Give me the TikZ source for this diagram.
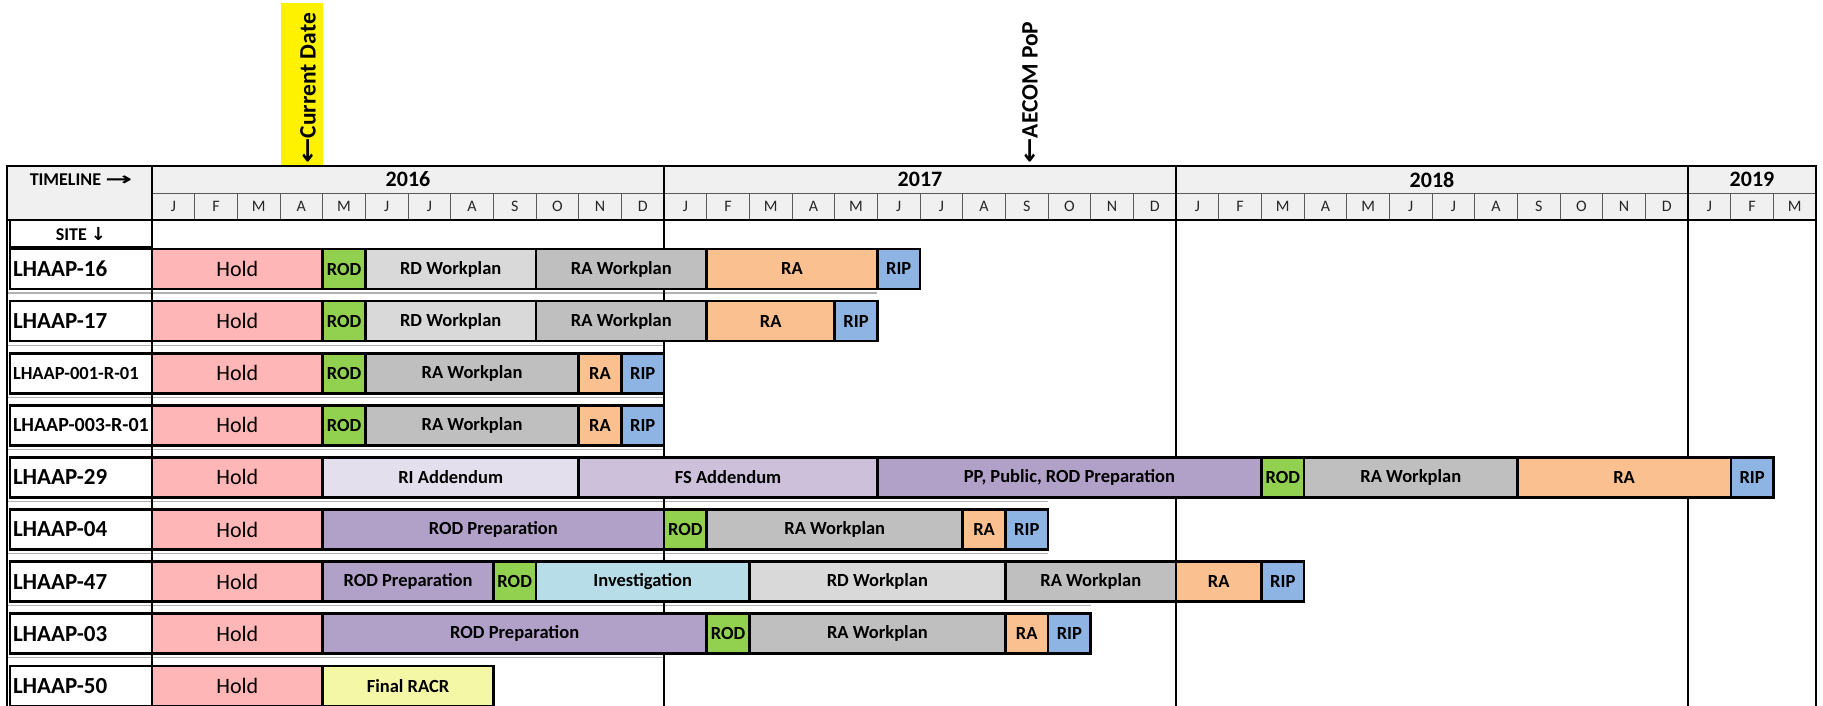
\documentclass[tikz,border=0pt]{standalone}
\usepackage{fontspec}
\setmainfont{Carlito}
\newfontfamily\arrowfont{DejaVu Sans}
\usepackage{xcolor}
\usepackage{graphicx}
\usetikzlibrary{positioning}

\definecolor{holdc}{HTML}{FFB6B6}
\definecolor{rodc}{HTML}{92D050}
\definecolor{rdwc}{HTML}{D9D9D9}
\definecolor{rawc}{HTML}{BFBFBF}
\definecolor{rac}{HTML}{FAC090}
\definecolor{ripc}{HTML}{8DB4E2}
\definecolor{riac}{HTML}{E4DFEC}
\definecolor{fsac}{HTML}{CCC0DA}
\definecolor{prepc}{HTML}{B1A0C7}
\definecolor{invc}{HTML}{B7DEE8}
\definecolor{racrc}{HTML}{F4F7A6}
\definecolor{hdrc}{HTML}{F0F0F0}

% one bar: name, row centre, first month, end month, style, text
\newcommand{\taskbar}[6]{\node[task,#5,minimum width={(#4-#3)*42.67pt}] (#1) at ({152+(#3+#4)*21.335},#2) {#6};}

\begin{document}
\begin{tikzpicture}[x=1pt,y=-1pt]
    \tikzstyle{task}=[draw, line width=2.6pt, minimum height=40pt, inner sep=0pt, font=\fontsize{18.5}{20}\selectfont\bfseries]
    \tikzstyle{holdbar}=[fill=holdc, font=\fontsize{22}{24}\selectfont]
    \tikzstyle{rodbar}=[fill=rodc]
    \tikzstyle{rdwbar}=[fill=rdwc]
    \tikzstyle{rawbar}=[fill=rawc]
    \tikzstyle{rabar}=[fill=rac]
    \tikzstyle{ripbar}=[fill=ripc]
    \tikzstyle{riabar}=[fill=riac]
    \tikzstyle{fsabar}=[fill=fsac]
    \tikzstyle{prepbar}=[fill=prepc]
    \tikzstyle{invbar}=[fill=invc]
    \tikzstyle{racrbar}=[fill=racrc]
    \tikzstyle{site}=[draw, line width=2.6pt, fill=white, minimum width=142pt, minimum height=40pt, text width=136pt, inner sep=0pt, align=left, font=\fontsize{23}{25}\selectfont\bfseries]
    \tikzstyle{year}=[draw=gray!70!black, line width=1pt, fill=hdrc, minimum height=27pt, inner sep=0pt, font=\fontsize{22}{24}\selectfont\bfseries]
    \tikzstyle{month}=[draw=gray!70!black, line width=1pt, fill=hdrc, minimum width=42.67pt, minimum height=27pt, inner sep=0pt, text=black!85, font=\fontsize{16}{17}\selectfont]
    \tikzstyle{frame}=[line width=2.6pt]
    \tikzstyle{gapline}=[line width=1.2pt, gray!60]
    \tikzstyle{marker}=[rotate=90, anchor=west, inner sep=0pt, font=\fontsize{23.5}{25}\selectfont\bfseries]
    \useasboundingbox (0,0) rectangle (1823,706);
    \clip (0,0) rectangle (1823,706);

    % markers above the table
    \fill[yellow] (281,3) rectangle (323,166);
    \node[marker] (curdate) at (308,164) {{\arrowfont\scalebox{1.3}[1]{←}}Current Date};
    \node[marker] (pop) at (1030,164) {{\arrowfont\scalebox{1.3}[1]{←}}AECOM PoP};

    % header
    \node[year, draw=none, minimum width=145pt, minimum height=54pt] (tlcell) at (79.5,193) {};
    \node[font=\fontsize{18}{20}\selectfont\bfseries] (timeline) at (81,180) {TIMELINE {\arrowfont\scalebox{1.8}[1]{→}}};
    \node[year, minimum width=512pt] (y2016) at (408,179.5) {2016};
    \node[year, minimum width=512pt] (y2017) at (920,179.5) {2017};
    \node[year, minimum width=512pt] (y2018) at (1432,179.5) {2018};
    \node[year, minimum width=128pt] (y2019) at (1752,179.5) {2019};
    \foreach \m [count=\i from 0] in {J,F,M,A,M,J,J,A,S,O,N,D,J,F,M,A,M,J,J,A,S,O,N,D,J,F,M,A,M,J,J,A,S,O,N,D,J,F,M}
        \node[month] (m\i) at ({152+(\i+0.5)*42.67},206.5) {\m};
    \node[draw, line width=2.6pt, minimum width=142pt, minimum height=27pt, inner sep=0pt, font=\fontsize{18}{20}\selectfont\bfseries] (sitehd) at (81,233.5) {SITE {\arrowfont ↓}};

    % strips between the rows
    \foreach \y/\e in {293/877, 345.1/664, 397.2/664, 449.3/664, 501.4/1048, 553.5/1048, 605.6/1091, 657.7/664}
        \draw[gapline] (7,\y) -- (\e,\y);

    % frame and year lines
    \draw[frame] (7,166) rectangle (1816,720);
    \draw[frame] (7,220) -- (1816,220);
    \foreach \x in {152,664,1176,1688}
        \draw[frame] (\x,166) -- (\x,720);

    % sites
    \node[site] (l16) at (81,269) {LHAAP-16};
    \node[site] (l17) at (81,321.1) {LHAAP-17};
    \node[site, font=\fontsize{18.5}{20}\selectfont\bfseries] (l001) at (81,373.2) {LHAAP-001-R-01};
    \node[site, font=\fontsize{20}{22}\selectfont\bfseries] (l003) at (81,425.3) {LHAAP-003-R-01};
    \node[site] (l29) at (81,477.4) {LHAAP-29};
    \node[site] (l04) at (81,529.5) {LHAAP-04};
    \node[site] (l47) at (81,581.6) {LHAAP-47};
    \node[site] (l03) at (81,633.7) {LHAAP-03};
    \node[site] (l50) at (81,685.8) {LHAAP-50};

    % LHAAP-16
    \taskbar{h16}{269}{0}{4}{holdbar}{Hold}
    \taskbar{rod16}{269}{4}{5}{rodbar}{ROD}
    \taskbar{rdw16}{269}{5}{9}{rdwbar}{RD Workplan}
    \taskbar{raw16}{269}{9}{13}{rawbar}{RA Workplan}
    \taskbar{ra16}{269}{13}{17}{rabar}{RA}
    \taskbar{rip16}{269}{17}{18}{ripbar}{RIP}
    % LHAAP-17
    \taskbar{h17}{321.1}{0}{4}{holdbar}{Hold}
    \taskbar{rod17}{321.1}{4}{5}{rodbar}{ROD}
    \taskbar{rdw17}{321.1}{5}{9}{rdwbar}{RD Workplan}
    \taskbar{raw17}{321.1}{9}{13}{rawbar}{RA Workplan}
    \taskbar{ra17}{321.1}{13}{16}{rabar}{RA}
    \taskbar{rip17}{321.1}{16}{17}{ripbar}{RIP}
    % LHAAP-001-R-01
    \taskbar{h001}{373.2}{0}{4}{holdbar}{Hold}
    \taskbar{rod001}{373.2}{4}{5}{rodbar}{ROD}
    \taskbar{raw001}{373.2}{5}{10}{rawbar}{RA Workplan}
    \taskbar{ra001}{373.2}{10}{11}{rabar}{RA}
    \taskbar{rip001}{373.2}{11}{12}{ripbar}{RIP}
    % LHAAP-003-R-01
    \taskbar{h003}{425.3}{0}{4}{holdbar}{Hold}
    \taskbar{rod003}{425.3}{4}{5}{rodbar}{ROD}
    \taskbar{raw003}{425.3}{5}{10}{rawbar}{RA Workplan}
    \taskbar{ra003}{425.3}{10}{11}{rabar}{RA}
    \taskbar{rip003}{425.3}{11}{12}{ripbar}{RIP}
    % LHAAP-29
    \taskbar{h29}{477.4}{0}{4}{holdbar}{Hold}
    \taskbar{ria29}{477.4}{4}{10}{riabar}{RI Addendum}
    \taskbar{fsa29}{477.4}{10}{17}{fsabar}{FS Addendum}
    \taskbar{prep29}{477.4}{17}{26}{prepbar}{PP, Public, ROD Preparation}
    \taskbar{rod29}{477.4}{26}{27}{rodbar}{ROD}
    \taskbar{raw29}{477.4}{27}{32}{rawbar}{RA Workplan}
    \taskbar{ra29}{477.4}{32}{37}{rabar}{RA}
    \taskbar{rip29}{477.4}{37}{38}{ripbar}{RIP}
    % LHAAP-04
    \taskbar{h04}{529.5}{0}{4}{holdbar}{Hold}
    \taskbar{prep04}{529.5}{4}{12}{prepbar}{ROD Preparation}
    \taskbar{rod04}{529.5}{12}{13}{rodbar}{ROD}
    \taskbar{raw04}{529.5}{13}{19}{rawbar}{RA Workplan}
    \taskbar{ra04}{529.5}{19}{20}{rabar}{RA}
    \taskbar{rip04}{529.5}{20}{21}{ripbar}{RIP}
    % LHAAP-47
    \taskbar{h47}{581.6}{0}{4}{holdbar}{Hold}
    \taskbar{prep47}{581.6}{4}{8}{prepbar}{ROD Preparation}
    \taskbar{rod47}{581.6}{8}{9}{rodbar}{ROD}
    \taskbar{inv47}{581.6}{9}{14}{invbar}{Investigation}
    \taskbar{rdw47}{581.6}{14}{20}{rdwbar}{RD Workplan}
    \taskbar{raw47}{581.6}{20}{24}{rawbar}{RA Workplan}
    \taskbar{ra47}{581.6}{24}{26}{rabar}{RA}
    \taskbar{rip47}{581.6}{26}{27}{ripbar}{RIP}
    % LHAAP-03
    \taskbar{h03}{633.7}{0}{4}{holdbar}{Hold}
    \taskbar{prep03}{633.7}{4}{13}{prepbar}{ROD Preparation}
    \taskbar{rod03}{633.7}{13}{14}{rodbar}{ROD}
    \taskbar{raw03}{633.7}{14}{20}{rawbar}{RA Workplan}
    \taskbar{ra03}{633.7}{20}{21}{rabar}{RA}
    \taskbar{rip03}{633.7}{21}{22}{ripbar}{RIP}
    % LHAAP-50
    \taskbar{h50}{685.8}{0}{4}{holdbar}{Hold}
    \taskbar{racr50}{685.8}{4}{8}{racrbar}{Final RACR}
\end{tikzpicture}
\end{document}
